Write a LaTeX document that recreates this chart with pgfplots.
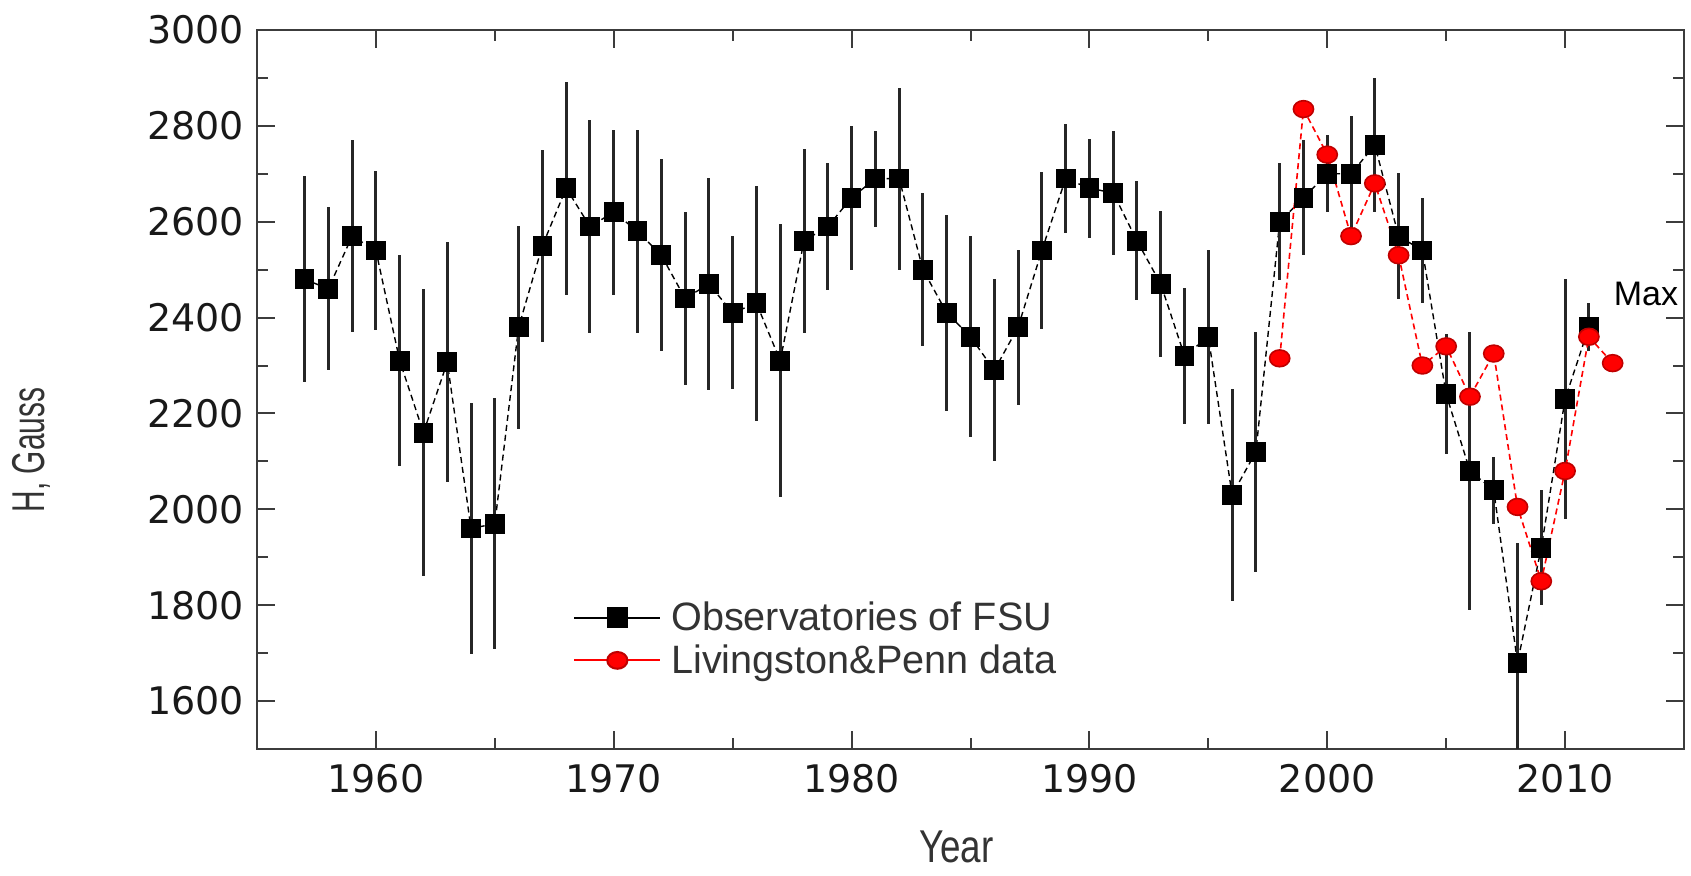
\documentclass[border=0pt]{standalone}
\usepackage{pgfplots}
\usepackage{pgfplotstable}
\pgfplotsset{compat=1.18}
\usepackage{fontspec}
\setmainfont{Liberation Sans}
\newfontfamily\tickfont{DejaVu Sans}

\pgfplotstableread{
year h err
1957 2480 215
1958 2460 170
1959 2570 200
1960 2540 165
1961 2310 220
1962 2160 300
1963 2307 250
1964 1960 262
1965 1970 262
1966 2380 212
1967 2550 200
1968 2670 222
1969 2590 222
1970 2620 172
1971 2580 212
1972 2530 200
1973 2440 180
1974 2470 222
1975 2410 160
1976 2430 245
1977 2310 285
1978 2560 192
1979 2590 133
1980 2650 150
1981 2690 100
1982 2690 190
1983 2500 160
1984 2410 205
1985 2360 210
1986 2290 190
1987 2380 162
1988 2540 163
1989 2690 113
1990 2670 103
1991 2660 130
1992 2560 124
1993 2470 153
1994 2320 142
1995 2360 182
1996 2030 222
1997 2120 250
1998 2600 122
1999 2650 120
2000 2700 80
2001 2700 120
2002 2760 140
2003 2570 132
2004 2540 110
2005 2240 125
2006 2080 290
2007 2040 70
2008 1680 250
2009 1920 120
2010 2230 250
2011 2380 50
}\obs

\pgfplotstableread{
year h
1998 2315
1999 2835
2000 2740
2001 2570
2002 2680
2003 2530
2004 2300
2005 2340
2006 2235
2007 2325
2008 2005
2009 1850
2010 2080
2011 2360
2012 2305
}\lp

\definecolor{axgray}{RGB}{60,60,60}

\begin{document}
\begin{tikzpicture}
\useasboundingbox (-128.5pt,-63.5pt) rectangle (717pt,374.5pt);
\begin{axis}[
  scale only axis,
  width=713.5pt, height=359.5pt,
  xmin=1955, xmax=2015,
  ymin=1500, ymax=3000,
  xtick={1960,1970,...,2010},
  minor xtick={1965,1975,...,2015},
  ytick={1600,1800,...,3000},
  minor ytick={1500,1700,...,2900},
  tick align=inside,
  major tick length=9pt,
  minor tick length=5.5pt,
  axis line style={axgray, line width=1pt},
  every tick/.style={axgray, line width=1pt},
  /pgf/number format/.cd, 1000 sep={}, assume math mode=true,
  /pgfplots/.cd,
  tick label style={font=\tickfont\fontsize{19}{19}\selectfont, text=black!90},
  yticklabel style={xshift=-3pt},
  xticklabel style={yshift=-4pt},
  xlabel={\scalebox{0.8}[1]{Year}},
  ylabel={\scalebox{0.65}[1]{H, Gauss}},
  label style={font=\fontsize{23}{23}\selectfont, text=black!80},
  xlabel style={at={(axis description cs:0.49,-0.136)}, anchor=center},
  ylabel style={at={(axis description cs:-0.158,0.416)}, anchor=center},
  legend style={
    at={(axis description cs:0.2214,0.208)}, anchor=north west,
    draw=none, fill=none, inner xsep=0pt, inner ysep=0pt,
    font=\fontsize{19.8}{19.8}\selectfont, text=black!80,
    nodes={inner sep=1pt},
    row sep=3.5pt,
  },
  legend cell align=left,
  legend image code/.code={
    \draw[#1, solid, line width=1pt, mark repeat=2, mark phase=2]
      plot coordinates {(0pt,0pt) (21.5pt,0pt) (43pt,0pt)};
  },
]
\addplot[black, densely dashed, line width=0.7pt,
  mark=square*, mark size=4.6pt, mark options={solid, fill=black},
  error bars/.cd, y dir=both, y explicit, error mark=none,
  error bar style={solid, line width=1.5pt, black!85}]
  table[x=year, y=h, y error=err] {\obs};
\addlegendentry{\hspace{4pt}Observatories of FSU}
\addplot[red, densely dashed, line width=0.8pt,
  mark=*, mark size=4.2pt, mark options={solid, fill=red, draw=red!75!black, xscale=1.2}]
  table[x=year, y=h] {\lp};
\addlegendentry{\hspace{4pt}Livingston\&Penn data}
\node[font=\fontsize{17}{17}\selectfont, text=black] at (axis cs:2013.4,2450) {Max};
\end{axis}
\end{tikzpicture}
\end{document}
